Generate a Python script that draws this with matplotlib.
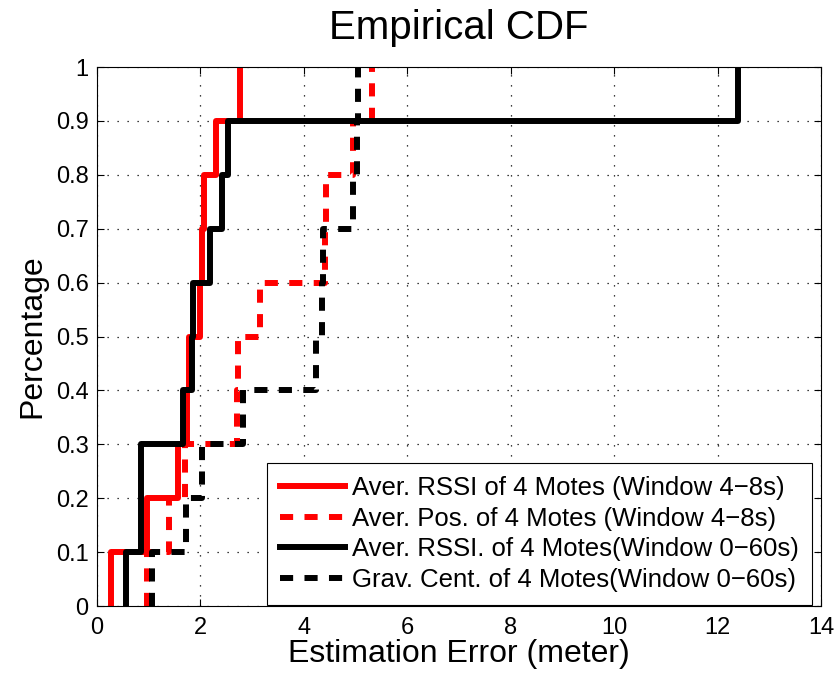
import numpy as np
import matplotlib.pyplot as plt

plt.rcParams['font.family'] = ['Liberation Sans', 'DejaVu Sans']

# estimation errors (meter), read off the empirical CDF steps
rssi_short = [0.28, 0.96, 1.57, 1.75, 1.78, 2.0, 2.03, 2.07, 2.31, 2.77]
pos_short = [0.96, 1.39, 1.7, 2.7, 2.72, 3.15, 4.41, 4.43, 4.95, 5.31]
rssi_long = [0.57, 0.86, 0.86, 1.66, 1.83, 1.86, 2.19, 2.41, 2.53, 12.4]
grav_long = [1.06, 1.73, 2.04, 2.83, 4.24, 4.35, 4.38, 4.96, 5.03, 5.05]

labels = ['Aver. RSSI of 4 Motes (Window 4\u22128s)',
          'Aver. Pos. of 4 Motes (Window 4\u22128s)',
          'Aver. RSSI. of 4 Motes(Window 0\u221260s)',
          'Grav. Cent. of 4 Motes(Window 0\u221260s)']


def ecdf(vals):
    x = np.sort(np.asarray(vals, dtype=float))
    y = np.arange(1, len(x) + 1) / len(x)
    return np.concatenate(([x[0]], x)), np.concatenate(([0.0], y))


fig = plt.figure(figsize=(8.39, 6.79), dpi=100)
ax = fig.add_axes([0.1156, 0.1075, 0.8629, 0.7938])

series = [(rssi_short, 'red', '-'), (pos_short, 'red', '--'),
          (rssi_long, 'black', '-'), (grav_long, 'black', '--')]
for (vals, col, ls), lab in zip(series, labels):
    x, y = ecdf(vals)
    ax.step(x, y, where='post', color=col, linestyle=ls, linewidth=4.3,
            label=lab, dashes=(2.2, 1.9) if ls == '--' else (None, None))

ax.set_xlim(0, 14)
ax.set_ylim(0, 1)
ax.set_xticks(np.arange(0, 15, 2))
ax.set_yticks(np.arange(0, 1.01, 0.1))
ax.set_yticklabels(['0', '0.1', '0.2', '0.3', '0.4', '0.5', '0.6', '0.7',
                    '0.8', '0.9', '1'])
ax.tick_params(direction='in', labelsize=17, top=True, right=True,
               length=5, width=0.8)
ax.tick_params(axis='x', pad=8)
ax.tick_params(axis='y', pad=6)
ax.grid(True, color='black', linestyle=(0, (1, 7)), linewidth=0.9)
for s in ax.spines.values():
    s.set_linewidth(0.8)

ax.set_title('Empirical CDF', fontsize=29, pad=20)
ax.set_xlabel('Estimation Error (meter)', fontsize=23, labelpad=0)
ax.set_ylabel('Percentage', fontsize=23, labelpad=6)

leg = ax.legend(loc='lower right', bbox_to_anchor=(0.9876, 0.002),
                fontsize=18.5, handlelength=2.5, handletextpad=0.3,
                borderpad=0.5, labelspacing=0.26, fancybox=False,
                framealpha=1, edgecolor='black', borderaxespad=0)
leg.get_frame().set_linewidth(0.8)

fig.savefig('out.png', dpi=100)
